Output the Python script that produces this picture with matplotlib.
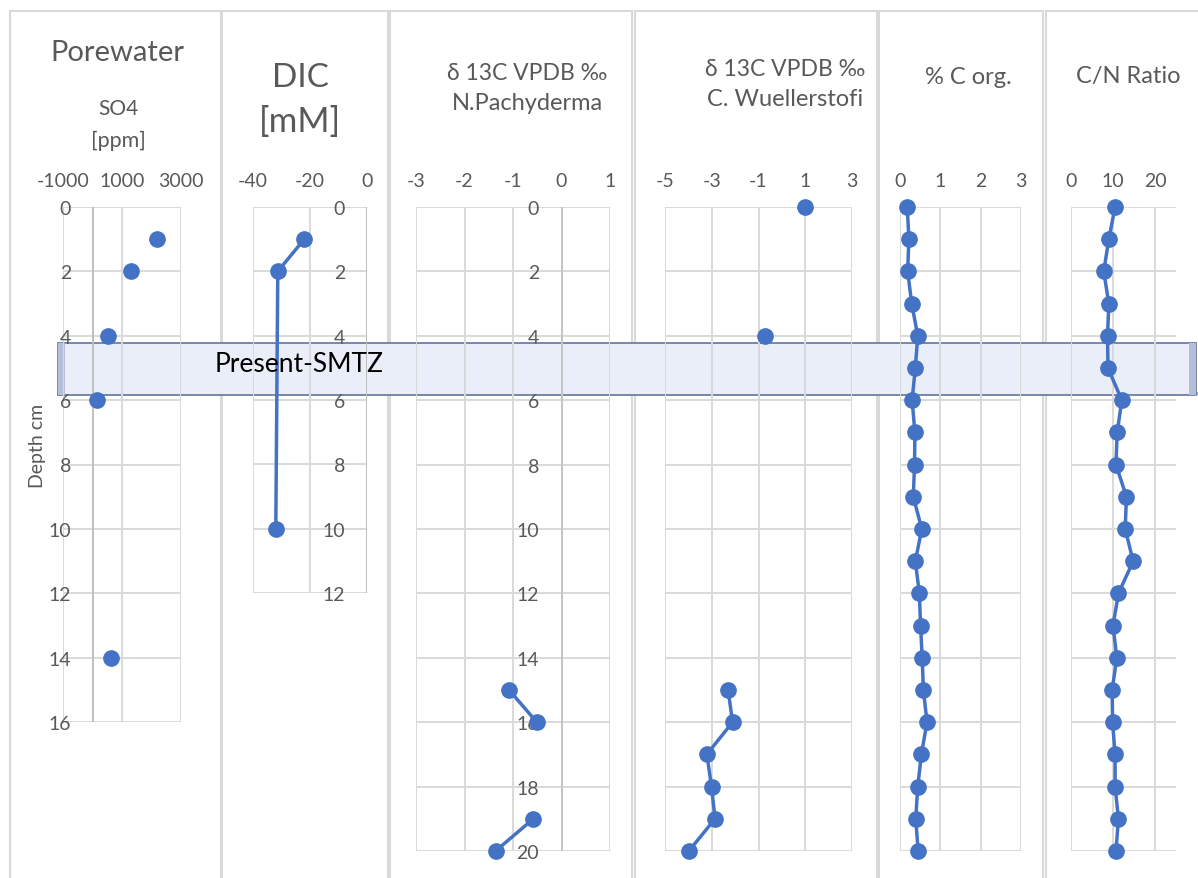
import matplotlib
matplotlib.use("Agg")
import matplotlib.pyplot as plt
from matplotlib.patches import Rectangle
import numpy as np

plt.rcParams['font.family'] = ['Lato', 'DejaVu Sans']
plt.rcParams['axes.unicode_minus'] = False

W, H = 1198, 879
BLUE = '#4472C4'
GRID = '#d9d9d9'
TXT = '#595959'

# ---- data (depth in cm) ----
so4_depth = [1, 2, 4, 6, 14]
so4_ppm = [2180, 1300, 520, 140, 620]

dic_depth = [1, 2, 10]
dic_mM = [-22.0, -31.3, -32.0]

np_depth = [15, 16, 17, 18, 19, 20]
np_d13c = [-1.08, -0.51, np.nan, np.nan, -0.58, -1.36]

cw_depth = [0, 2, 4, 10, 15, 16, 17, 18, 19, 20]
cw_d13c = [1.0, np.nan, -0.73, np.nan, -2.30, -2.11, -3.21, -3.01, -2.86, -3.98]

core_depth = list(range(0, 21))
corg = [0.18, 0.22, 0.19, 0.29, 0.44, 0.38, 0.30, 0.37, 0.36, 0.33, 0.54,
        0.38, 0.48, 0.51, 0.55, 0.58, 0.67, 0.53, 0.44, 0.39, 0.45]
cn_ratio = [10.5, 9.0, 7.8, 9.0, 8.7, 8.8, 12.1, 11.0, 10.7, 13.2, 12.9,
            14.8, 11.3, 10.0, 10.9, 9.8, 9.9, 10.5, 10.5, 11.3, 10.7]

fig = plt.figure(figsize=(W / 100, H / 100), dpi=100)


def panel(x0, x1, ytop, ybot):
    return fig.add_axes([x0 / W, 1 - ybot / H, (x1 - x0) / W, (ybot - ytop) / H])


def style(ax, xlim, xticks, dmax, ylab_right=None):
    ax.set_xlim(*xlim)
    ax.set_ylim(dmax, 0)
    ax.set_xticks(xticks)
    ax.set_yticks(range(0, dmax + 1, 2))
    ax.xaxis.tick_top()
    ax.grid(True, color=GRID, lw=1.4)
    ax.set_axisbelow(True)
    for s in ax.spines.values():
        s.set_visible(False)
    ax.tick_params(axis='x', length=0, pad=13, labelsize=14, labelcolor=TXT)
    if ylab_right is None:
        ax.tick_params(axis='y', length=0, labelleft=False)
    else:
        # labels sit inside the plot area, right edge at ylab_right px
        x0 = ax.get_position().x0 * W
        ax.tick_params(axis='y', length=0, labelsize=14, labelcolor=TXT,
                       pad=(x0 - ylab_right) * 0.72)
    ax.patch.set_alpha(0)


# chart-area borders (six separate Excel charts)
for x0, x1 in [(10, 221), (222, 388), (390, 632), (635, 877), (879, 1043), (1046, 1230)]:
    fig.patches.append(Rectangle((x0 / W, -0.1), (x1 - x0) / W, 1.1 - 12 / H,
                                 transform=fig.transFigure, fill=False,
                                 ec=GRID, lw=1.5, zorder=-2))

ax1 = panel(63, 181, 208, 723)
style(ax1, (-1000, 3000), [-1000, 1000, 3000], 16, ylab_right=71)
ax1.axvline(0, color='#bfbfbf', lw=1.4, zorder=1)
ax1.plot(so4_ppm, so4_depth, 'o', color=BLUE, ms=11, clip_on=False, zorder=3)

ax2 = panel(253, 367, 208, 594)
style(ax2, (-40, 0), [-40, -20, 0], 12, ylab_right=345)
ax2.axvline(0, color='#bfbfbf', lw=1.4, zorder=1)
ax2.plot(dic_mM, dic_depth, '-o', color=BLUE, ms=11, lw=2.5, clip_on=False, zorder=3)

ax3 = panel(416, 610, 208, 852)
style(ax3, (-3, 1), [-3, -2, -1, 0, 1], 20, ylab_right=539)
ax3.axvline(0, color='#c4c4c4', lw=1.4, zorder=1)
ax3.plot(np_d13c, np_depth, '-o', color=BLUE, ms=11, lw=2.5, clip_on=False, zorder=3)

ax4 = panel(665, 852, 208, 852)
style(ax4, (-5, 3), [-5, -3, -1, 1, 3], 20)
ax4.plot(cw_d13c, cw_depth, '-o', color=BLUE, ms=11, lw=2.5, clip_on=False, zorder=3)

ax5 = panel(900, 1021, 208, 852)
style(ax5, (0, 3), [0, 1, 2, 3], 20)
ax5.plot(corg, core_depth, '-o', color=BLUE, ms=11, lw=2.5, clip_on=False, zorder=3)

ax6 = panel(1071, 1176, 208, 852)
style(ax6, (0, 25), [0, 10, 20], 20)
ax6.plot(cn_ratio, core_depth, '-o', color=BLUE, ms=11, lw=2.5, clip_on=False, zorder=3)


def ftext(x, y, s, size, **kw):
    kw.setdefault('color', TXT)
    fig.text(x / W, 1 - y / H, s, fontsize=size, ha=kw.pop('ha', 'center'),
             va=kw.pop('va', 'center'), **kw)


ftext(117, 53, 'Porewater', 21)
ftext(118, 109, 'SO4', 15)
ftext(118, 141, '[ppm]', 15.5)
ftext(300, 78, 'DIC', 24)
ftext(300, 122, '[mM]', 25)
ftext(527, 73, 'δ 13C VPDB ‰', 16.5)
ftext(527, 103, 'N.Pachyderma', 17)
ftext(785, 69, 'δ 13C VPDB ‰', 16.5)
ftext(785, 99, 'C. Wuellerstofi', 17)
ftext(968, 77, '% C org.', 17)
ftext(1128, 77, 'C/N Ratio', 17)
ftext(37, 446, 'Depth cm', 14, rotation=90)

# Present-SMTZ band across all panels (below the data marks)
bx0, bx1, by0, by1 = 58, 1196, 344, 396
fig.patches.append(Rectangle((bx0 / W, 1 - by1 / H), (bx1 - bx0) / W, (by1 - by0) / H,
                             transform=fig.transFigure, fc='#e9eef9',
                             ec='#6d7fa6', lw=1.3, zorder=-1))
fig.patches.append(Rectangle((bx0 / W, 1 - by1 / H), 7 / W, (by1 - by0) / H,
                             transform=fig.transFigure, fc='#b4bed6',
                             ec='none', zorder=-1))
fig.patches.append(Rectangle(((bx1 - 7) / W, 1 - by1 / H), 7 / W, (by1 - by0) / H,
                             transform=fig.transFigure, fc='#b4bed6',
                             ec='none', zorder=-1))
fig.lines.append(plt.Line2D([(bx0 + 6) / W, (bx1 - 6) / W], [1 - (by0 + 5) / H] * 2,
                            transform=fig.transFigure, color='white', lw=2, alpha=0.9, zorder=-1))
fig.lines.append(plt.Line2D([bx0 / W, bx1 / W], [1 - (by1 - 2) / H] * 2,
                            transform=fig.transFigure, color='#8db3e6', lw=2.2, zorder=-1))
ftext(215, 365, 'Present-SMTZ', 19, ha='left', color='black', zorder=7)

fig.savefig('out.png', dpi=100)
